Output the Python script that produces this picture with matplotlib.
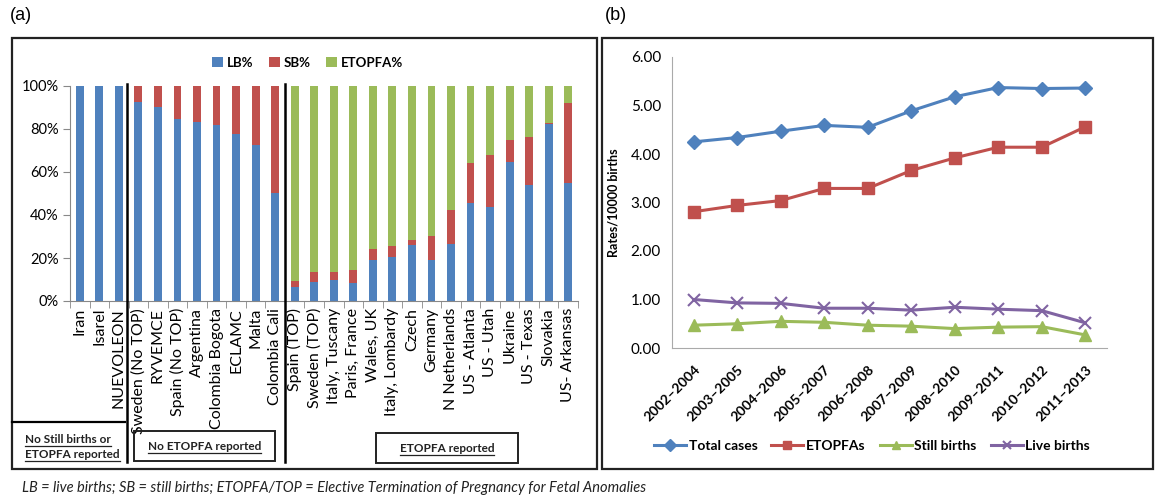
import matplotlib
matplotlib.use('Agg')
import matplotlib.pyplot as plt
import matplotlib.transforms as mtransforms
from matplotlib.patches import Rectangle
from matplotlib.lines import Line2D

plt.rcParams['font.family'] = ['Lato', 'DejaVu Sans']

# ---- panel (a) data: share of outcomes per registry (%)
registries = ['Iran', 'Isarel', 'NUEVOLEON', 'Sweden (No TOP)', 'RYVEMCE', 'Spain (No TOP)',
              'Argentina', 'Colombia Bogota', 'ECLAMC', 'Malta', 'Colombia Cali',
              'Spain (TOP)', 'Sweden (TOP)', 'Italy, Tuscany', 'Paris, France', 'Wales, UK',
              'Italy, Lombardy', 'Czech', 'Germany', 'N Netherlands', 'US - Atlanta',
              'US - Utah', 'Ukraine', 'US - Texas', 'Slovakia', 'US- Arkansas']
lb_pct = [100, 100, 100, 92.7, 90.0, 84.7, 83.2, 81.9, 77.9, 72.5, 50.1,
          6.6, 8.8, 9.7, 8.5, 18.9, 20.4, 26.1, 19.3, 26.4, 45.4, 43.6, 64.5, 53.9, 82.2, 54.7]
sb_pct = [0, 0, 0, 7.3, 10.0, 15.3, 16.8, 18.1, 22.1, 27.5, 49.9,
          2.5, 4.8, 3.6, 5.9, 5.4, 5.4, 2.2, 10.8, 15.9, 18.6, 24.1, 10.6, 22.5, 0.5, 37.4]
etopfa_pct = [100 - a - b for a, b in zip(lb_pct, sb_pct)]

# ---- panel (b) data: rates per 10000 births
periods = ['2002\u20132004', '2003\u20132005', '2004\u20132006', '2005\u20132007', '2006\u20132008',
           '2007\u20132009', '2008\u20132010', '2009\u20132011', '2010\u20132012', '2011\u20132013']
total_cases = [4.25, 4.34, 4.47, 4.59, 4.55, 4.89, 5.18, 5.37, 5.35, 5.36]
etopfas = [2.81, 2.94, 3.04, 3.29, 3.29, 3.66, 3.92, 4.14, 4.14, 4.56]
still_births = [0.47, 0.50, 0.55, 0.53, 0.47, 0.45, 0.40, 0.43, 0.44, 0.27]
live_births = [1.00, 0.93, 0.92, 0.82, 0.82, 0.78, 0.84, 0.80, 0.77, 0.52]

BLUE, RED, GREEN, PURPLE = '#4F81BD', '#C0504D', '#9BBB59', '#8064A2'
W, H = 1155, 500


def fx(px):
    return px / W


def fy(py):
    return 1 - py / H


fig = plt.figure(figsize=(W / 100, H / 100), dpi=100)

# ================= panel (a)
ax = fig.add_axes([fx(70), fy(301), fx(578) - fx(70), fy(86) - fy(301)])
x = list(range(len(registries)))
ax.bar(x, lb_pct, width=0.4, color=BLUE, label='LB%')
ax.bar(x, sb_pct, width=0.4, bottom=lb_pct, color=RED, label='SB%')
ax.bar(x, etopfa_pct, width=0.4, bottom=[a + b for a, b in zip(lb_pct, sb_pct)],
       color=GREEN, label='ETOPFA%')
ax.set_xlim(-0.5, len(registries) - 0.5)
ax.set_ylim(0, 100)
ax.set_yticks(range(0, 101, 20))
ax.set_yticklabels([f'{v}%' for v in range(0, 101, 20)], fontsize=10.5)
ax.set_xticks(x)
ax.set_xticklabels(registries, rotation=90, fontsize=11.5)
ax.set_xticks([i - 0.5 for i in range(len(registries) + 1)], minor=True)
ax.tick_params(axis='x', which='major', length=0, pad=5)
ax.tick_params(axis='x', which='minor', length=5, color='#888888')
ax.tick_params(axis='y', length=5, color='#888888', pad=3)
for s in ['top', 'right']:
    ax.spines[s].set_visible(False)
for s in ['left', 'bottom']:
    ax.spines[s].set_color('#888888')
ax.legend(loc='center', bbox_to_anchor=(0.468, 1.107), ncol=3, frameon=False,
          handlelength=0.8, handleheight=0.8, handletextpad=0.3, columnspacing=1.2,
          prop={'weight': 'bold', 'size': 9.5})

# group separators and boxes
blend = mtransforms.blended_transform_factory(ax.transData, fig.transFigure)
for xs in [2.4, 10.5]:
    fig.add_artist(Line2D([xs, xs], [fy(84), fy(462)], transform=blend, color='black', lw=1.8))

fig.add_artist(Rectangle((fx(12), fy(469)), fx(597) - fx(12), fy(38) - fy(469),
                         transform=fig.transFigure, fill=False, ec='#222222', lw=1.6))
fig.add_artist(Line2D([fx(12), fx(125)], [fy(422), fy(422)], transform=fig.transFigure,
                      color='black', lw=1.6))
fig.add_artist(Rectangle((fx(134), fy(461)), fx(275) - fx(134), fy(431) - fy(461),
                         transform=fig.transFigure, fill=False, ec='#222222', lw=1.4))
fig.add_artist(Rectangle((fx(376), fy(463)), fx(518) - fx(376), fy(433) - fy(463),
                         transform=fig.transFigure, fill=False, ec='#222222', lw=1.4))

renderer = fig.canvas.get_renderer()


def underlined(px, py, s, ha='left'):
    t = fig.text(fx(px), fy(py), s, ha=ha, va='baseline', fontsize=8.5, fontweight='bold',
                 color='#222222')
    bb = t.get_window_extent(renderer).transformed(fig.transFigure.inverted())
    fig.add_artist(Line2D([bb.x0, bb.x1], [fy(py + 2.5), fy(py + 2.5)],
                          transform=fig.transFigure, color='#222222', lw=0.9))


underlined(25, 443, 'No Still births or')
underlined(25, 458, 'ETOPFA reported')
underlined(204.5, 450, 'No ETOPFA reported', ha='center')
underlined(447, 452, 'ETOPFA reported', ha='center')

# ================= panel (b)
bx = fig.add_axes([fx(672), fy(348), fx(1107) - fx(672), fy(57) - fy(348)])
xp = list(range(len(periods)))
bx.plot(xp, total_cases, color=BLUE, lw=2.2, marker='D', ms=7.5, label='Total cases')
bx.plot(xp, etopfas, color=RED, lw=2.2, marker='s', ms=8.5, label='ETOPFAs')
bx.plot(xp, still_births, color=GREEN, lw=2.2, marker='^', ms=8.5, label='Still births')
bx.plot(xp, live_births, color=PURPLE, lw=2.2, marker='x', ms=8, mew=1.5, label='Live births')
bx.set_xlim(-0.5, len(periods) - 0.5)
bx.set_ylim(0, 6)
bx.set_yticks(range(0, 7))
bx.set_yticklabels([f'{v:.2f}' for v in range(0, 7)], fontsize=11)
bx.set_xticks(xp)
bx.set_xticklabels(periods, rotation=45, ha='right', rotation_mode='anchor',
                   fontsize=10, fontweight='bold')
bx.tick_params(axis='y', length=0, pad=8)
bx.tick_params(axis='x', length=0, pad=11)
for s in ['top', 'right']:
    bx.spines[s].set_visible(False)
for s in ['left', 'bottom']:
    bx.spines[s].set_color('#AAAAAA')
bx.set_ylabel('Rates/10000 births', fontsize=9, fontweight='bold', labelpad=8)
bx.legend(loc='center', bbox_to_anchor=(0.46, -0.337), ncol=4, frameon=False,
          handlelength=2.3, handletextpad=0.2, columnspacing=1.0, markerscale=0.75,
          prop={'weight': 'bold', 'size': 10})

fig.add_artist(Rectangle((fx(602), fy(469)), fx(1153) - fx(602), fy(38) - fy(469),
                         transform=fig.transFigure, fill=False, ec='#222222', lw=1.6))

# panel letters and footnote
fig.text(fx(10), fy(16), '(a)', fontsize=13, family='Liberation Sans', va='center')
fig.text(fx(605), fy(16), '(b)', fontsize=13, family='Liberation Sans', va='center')
fig.text(fx(22), fy(488),
         'LB = live births; SB = still births; ETOPFA/TOP = Elective Termination of Pregnancy for Fetal Anomalies',
         fontsize=10.5, style='italic', va='center', color='#222222')

plt.savefig('out.png', dpi=100)
